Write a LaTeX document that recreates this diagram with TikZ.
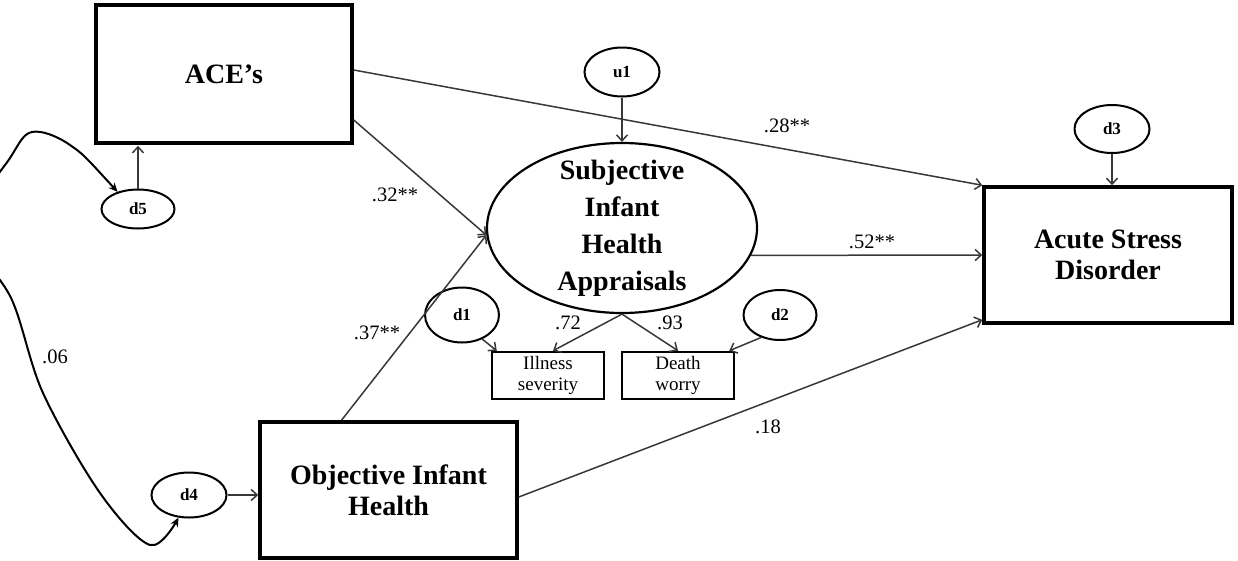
\documentclass[tikz,border=0pt]{standalone}
\usepackage{fontspec}
\setmainfont{Liberation Serif}
\usetikzlibrary{shapes.geometric,arrows.meta}
\begin{document}
\begin{tikzpicture}[x=1pt,y=-1pt,
  bigbox/.style={draw, line width=3.5pt, rectangle, inner sep=0pt, align=center,
    font=\fontsize{28}{31}\selectfont\bfseries},
  bigell/.style={draw, ellipse, line width=2.2pt, inner sep=0pt,
    minimum width=270pt, minimum height=170pt},
  bigtext/.style={align=center, font=\fontsize{28}{37}\selectfont\bfseries},
  errell/.style={draw, ellipse, line width=2pt, inner sep=0pt,
    font=\fontsize{17}{20}\selectfont\bfseries},
  indbox/.style={draw, line width=2.5pt, rectangle, inner sep=0pt, align=center,
    minimum width=112pt, minimum height=47pt, font=\fontsize{19}{21}\selectfont},
  coef/.style={inner sep=0pt, font=\fontsize{20.5}{22}\selectfont},
  arr/.style={draw=black!78, line width=1.5pt,
    -{Straight Barb[length=6pt,width=11pt,line width=1.5pt]}},
  covarr/.style={draw=black, line width=2pt,
    {Stealth[length=9pt,width=8pt]}-{Stealth[length=9pt,width=8pt]}}
]
\useasboundingbox (0,0) rectangle (1238,560);
\clip (0,0) rectangle (1238,560);
\fill[white] (0,0) rectangle (1238,560);

% main variables
\node[bigbox, minimum width=256pt, minimum height=138pt] (ace) at (224,74) {ACE’s};
\node[bigbox, minimum width=257pt, minimum height=136pt] (oih) at (388.5,490) {Objective Infant\\Health};
\node[bigbox, minimum width=248pt, minimum height=136pt] (asd) at (1108,255) {Acute Stress\\Disorder};
\node[bigell] (sia) at (622,228) {};
\node[bigtext] (siatext) at (622,228) {Subjective\\Infant\\Health\\Appraisals};

% indicators
\node[indbox] (ill) at (548,375.5) {Illness\\severity};
\node[indbox] (dw) at (678,375.5) {Death\\worry};

% error terms
\node[errell, minimum width=75pt, minimum height=49pt] (u1) at (622,72) {u1};
\node[errell, minimum width=75pt, minimum height=48pt] (d3) at (1112,129) {d3};
\node[errell, minimum width=73pt, minimum height=39pt] (d5) at (138,209) {d5};
\node[errell, minimum width=75pt, minimum height=45pt] (d4) at (189,495) {d4};
\node[errell, minimum width=74pt, minimum height=55pt] (d1) at (462,315) {d1};
\node[errell, minimum width=73pt, minimum height=50pt] (d2) at (780,315) {d2};

% structural paths
\draw[arr] ([yshift=4pt]ace.east) -- (asd.north west);
\draw[arr] ([yshift=-46pt]ace.east) -- (sia.183);
\draw[arr] ([xshift=-47pt]oih.north) -- (sia.183);
\draw[arr] (sia.-12) -- (asd.west);
\draw[arr] ([yshift=-7pt]oih.east) -- ([yshift=5pt]asd.south west);

% measurement paths
\draw[arr] (sia.south) -- ([xshift=5pt]ill.north);
\draw[arr] (sia.south) -- (dw.north);

% error paths
\draw[arr] (u1.south) -- (sia.north);
\draw[arr] (d3.south) -- (d3.south |- asd.north);
\draw[arr] (d5.north) -- ([yshift=-1pt]d5.north |- ace.south);
\draw[arr] (d4.east) -- (d4.east -| oih.west);
\draw[arr] (d1.-50) -- ([xshift=6pt]ill.north west);
\draw[arr] (d2.-130) -- ([xshift=-6pt]dw.north east);

% covariance
\draw[covarr] plot[smooth, tension=0.55] coordinates {(d5.140) (70,145) (32,132) (10,158) (-30,228) (12,300) (43,393) (100,493) (150,545) (d4.-115)};

% coefficients
\node[coef] (c28) at (787,126) {.28**};
\node[coef] (c32) at (395,195) {.32**};
\node[coef] (c37) at (377,333) {.37**};
\node[coef] (c52) at (872,242) {.52**};
\node[coef] (c18) at (768,427) {.18};
\node[coef] (c72) at (568,323) {.72};
\node[coef] (c93) at (670,323) {.93};
\node[coef] (c06) at (55,357) {.06};
\end{tikzpicture}
\end{document}
